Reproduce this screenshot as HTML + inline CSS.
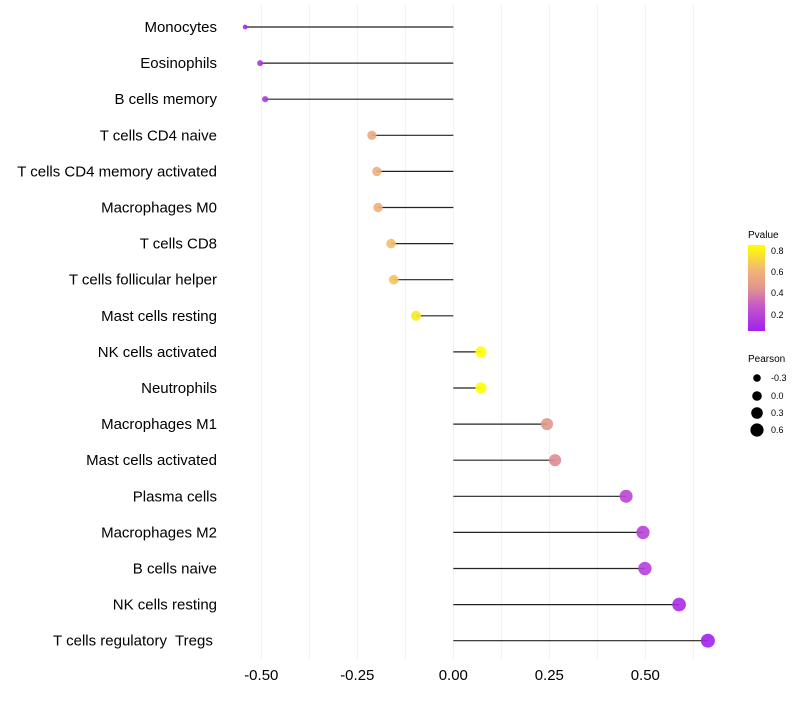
<!DOCTYPE html>
<html><head><meta charset="utf-8"><style>
body{margin:0;background:#fff;font-family:"Liberation Sans",sans-serif}
text{white-space:pre}
</style></head><body>
<svg id="chart" width="800" height="700" xmlns="http://www.w3.org/2000/svg">
<g id="grid"></g>
<g id="ylabels"></g>
<g id="xlabels"></g>
<g id="marks"></g>
<g id="legend" font-size="10">
  <defs><linearGradient id="pg" x1="0" y1="1" x2="0" y2="0">
    <stop offset="0" stop-color="#a020f0"/><stop offset="0.3" stop-color="#c85ac8"/><stop offset="0.5" stop-color="#e1968c"/><stop offset="0.7" stop-color="#f0b478"/><stop offset="1" stop-color="#ffff00"/>
  </linearGradient></defs>
  <text x="748" y="238" font-size="10">Pvalue</text>
  <rect x="748" y="245" width="17" height="86" fill="url(#pg)"/>
  <text x="771" y="254" font-size="9">0.8</text>
  <text x="771" y="275" font-size="9">0.6</text>
  <text x="771" y="296" font-size="9">0.4</text>
  <text x="771" y="318" font-size="9">0.2</text>
  <text x="748" y="362" font-size="10">Pearson</text>
  <circle cx="757" cy="378" r="3.8" fill="#000"/><text x="771" y="381" font-size="9">-0.3</text>
  <circle cx="757" cy="396" r="4.8" fill="#000"/><text x="771" y="399" font-size="9">0.0</text>
  <circle cx="757" cy="413" r="5.8" fill="#000"/><text x="771" y="416" font-size="9">0.3</text>
  <circle cx="757" cy="430" r="6.6" fill="#000"/><text x="771" y="433" font-size="9">0.6</text>
</g>
</svg>
<script>
const categories=["Monocytes","Eosinophils","B cells memory","T cells CD4 naive","T cells CD4 memory activated","Macrophages M0","T cells CD8","T cells follicular helper","Mast cells resting","NK cells activated","Neutrophils","Macrophages M1","Mast cells activated","Plasma cells","Macrophages M2","B cells naive","NK cells resting","T cells regulatory  Tregs "];
const pearson=[-0.542,-0.503,-0.490,-0.212,-0.199,-0.196,-0.162,-0.155,-0.097,0.072,0.072,0.244,0.265,0.45,0.494,0.499,0.588,0.663];
const pvalues=[0.1,0.12,0.13,0.55,0.58,0.58,0.64,0.66,0.78,0.85,0.85,0.45,0.42,0.2,0.18,0.17,0.1,0.05];
const xticks=[-0.5,-0.25,0,0.25,0.5];
const xtickLabels=["-0.50","-0.25","0.00","0.25","0.50"];
const xminor=[-0.375,-0.125,0.125,0.375,0.625];

const NS="http://www.w3.org/2000/svg";
const xs=v=>453.3+384*v;
const ys=i=>27+i*36.1;
const rs=v=>2+5*Math.sqrt(Math.max(0,(v+0.55)/1.22));
const stops=[[0,[160,32,240]],[0.3,[200,90,200]],[0.5,[225,150,140]],[0.7,[240,180,120]],[1,[255,255,0]]];
function col(p){const t=Math.max(0,Math.min(1,(p-0.04)/0.81));
 for(let k=1;k<stops.length;k++){if(t<=stops[k][0]){const [t0,a]=stops[k-1],[t1,b]=stops[k];const u=(t-t0)/(t1-t0);
 return `rgb(${a.map((x,j)=>Math.round(x+(b[j]-x)*u)).join(',')})`;}}
 return 'rgb(255,255,0)';}
function mk(tag,attrs,parent){const e=document.createElementNS(NS,tag);for(const k in attrs)e.setAttribute(k,attrs[k]);parent.appendChild(e);return e;}
const grid=document.getElementById('grid'),yl=document.getElementById('ylabels'),xl=document.getElementById('xlabels'),marks=document.getElementById('marks');
xticks.concat(xminor).forEach(v=>{const l=mk('line',{x1:xs(v),x2:xs(v),y1:5,y2:660,stroke:'#f0f0f0','stroke-width':1},grid);

});
xticks.forEach((v,i)=>{const t=mk('text',{x:xs(v),y:680,'text-anchor':'middle','font-size':15,fill:'#000'},xl);t.textContent=xtickLabels[i];

});
categories.forEach((c,i)=>{const t=mk('text',{x:217,y:ys(i)+5,'text-anchor':'end','font-size':15,fill:'#000'},yl);t.textContent=c;


const l=mk('line',{x1:xs(0),x2:xs(pearson[i]),y1:ys(i),y2:ys(i),stroke:'#222','stroke-width':1.2},marks);


const d=mk('circle',{cx:xs(pearson[i]),cy:ys(i),r:rs(pearson[i]),fill:col(pvalues[i]),'fill-opacity':0.9},marks);

});
</script>
</body></html>
